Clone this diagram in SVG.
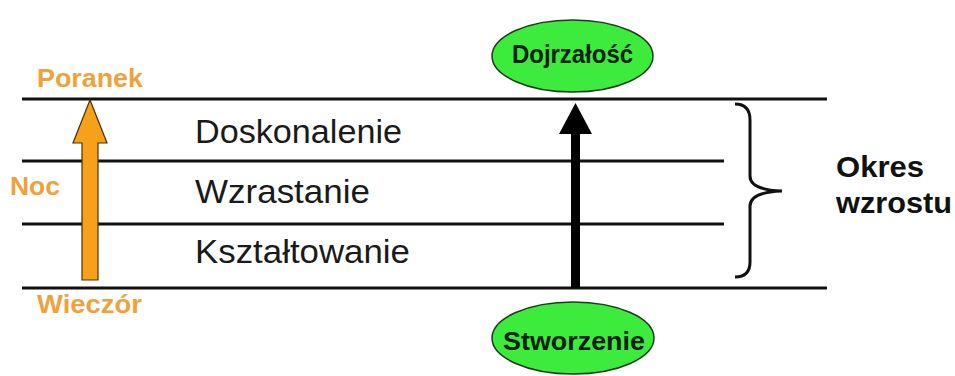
<svg xmlns="http://www.w3.org/2000/svg" width="955" height="376" viewBox="0 0 955 376">
  <style>
    .rule { stroke: #111; stroke-width: 3; fill: none; }
    .stage { font-family: "Liberation Sans", Arial, sans-serif; font-size: 34px; fill: #1a1a1a; }
    .time { font-family: "Liberation Sans", Arial, sans-serif; font-weight: bold; font-size: 25px; fill: #EFA23C; }
    .node { fill: #3DEB3D; stroke: #1c3a1c; stroke-width: 1.5; }
    .nodeText { font-family: "Liberation Sans", Arial, sans-serif; font-weight: bold; font-size: 25px; fill: #0d200d; text-anchor: middle; }
    .label { font-family: "Liberation Sans", Arial, sans-serif; font-weight: bold; font-size: 30px; fill: #111; }
  </style>
  <rect width="955" height="376" fill="#fff"/>

  <!-- horizontal stage boundaries -->
  <g id="rules">
    <line class="rule" x1="22" y1="99" x2="827" y2="99"/>
    <line class="rule" x1="22" y1="161" x2="724" y2="161"/>
    <line class="rule" x1="22" y1="224" x2="724" y2="224"/>
    <line class="rule" x1="22" y1="288" x2="827" y2="288"/>
  </g>

  <!-- stage names -->
  <g id="stages">
    <text class="stage" x="195" y="143" textLength="207" lengthAdjust="spacingAndGlyphs">Doskonalenie</text>
    <text class="stage" x="195" y="203" textLength="175" lengthAdjust="spacingAndGlyphs">Wzrastanie</text>
    <text class="stage" x="195" y="263" textLength="215" lengthAdjust="spacingAndGlyphs">Kształtowanie</text>
  </g>

  <!-- time-of-day labels -->
  <g id="time-labels">
    <text class="time" x="37" y="87" textLength="106" lengthAdjust="spacingAndGlyphs">Poranek</text>
    <text class="time" x="10" y="195" textLength="50" lengthAdjust="spacingAndGlyphs">Noc</text>
    <text class="time" x="37" y="313" textLength="105" lengthAdjust="spacingAndGlyphs">Wieczór</text>
  </g>

  <!-- connectors -->
  <g id="connectors">
    <polygon id="night-arrow" points="82,280 98,280 98,143 107,143 90,100 73,143 82,143" fill="#F7A11A" stroke="#4a3000" stroke-width="1.2"/>
    <polygon id="growth-arrow" points="571,288 580,288 580,134 592,134 575.5,103 559,134 571,134" fill="#000"/>
    <path id="brace" d="M735,104 Q750,104 750,120 L750,176 Q750,190 782,191 Q750,192 750,206 L750,262 Q750,277 735,277" fill="none" stroke="#111" stroke-width="3"/>
  </g>

  <g id="node-dojrzalosc">
    <ellipse class="node" cx="572.5" cy="56" rx="80.5" ry="36"/>
    <text class="nodeText" x="572.5" y="63" textLength="121" lengthAdjust="spacingAndGlyphs">Dojrzałość</text>
  </g>

  <g id="node-stworzenie">
    <ellipse class="node" cx="573" cy="338" rx="81" ry="36"/>
    <text class="nodeText" x="574" y="350" textLength="142" lengthAdjust="spacingAndGlyphs">Stworzenie</text>
  </g>

  <g id="okres-wzrostu">
    <text class="label" x="836" y="177" textLength="88" lengthAdjust="spacingAndGlyphs">Okres</text>
    <text class="label" x="836" y="213" textLength="116" lengthAdjust="spacingAndGlyphs">wzrostu</text>
  </g>
</svg>
